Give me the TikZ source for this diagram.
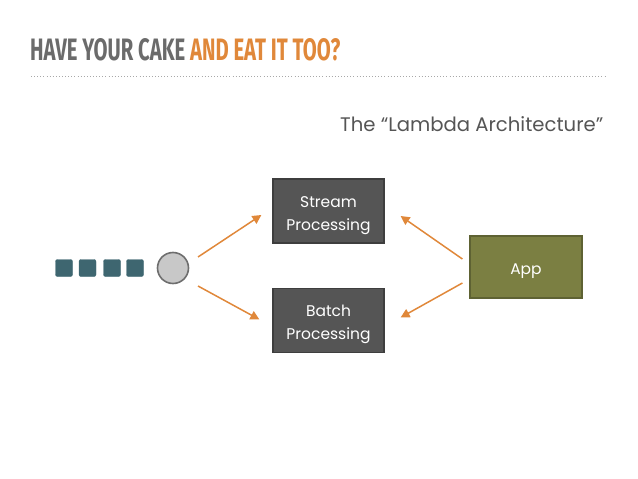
\documentclass[tikz,border=0pt]{standalone}
\usepackage{fontspec}
\setmainfont{Liberation Sans}
\newfontfamily\titlefont{Fira Sans}
\newfontfamily\handfont{Poppins}
\usetikzlibrary{arrows.meta}
\definecolor{titlegray}{HTML}{6B6B6B}
\definecolor{titleorange}{HTML}{E0883A}
\definecolor{boxgray}{HTML}{555555}
\definecolor{boxedge}{HTML}{3E3E3E}
\definecolor{appfill}{HTML}{7B7F42}
\definecolor{appedge}{HTML}{5E6233}
\definecolor{teal}{HTML}{3E6670}
\definecolor{circfill}{HTML}{C8C8C8}
\definecolor{circedge}{HTML}{6E6E6E}
\definecolor{arroworange}{HTML}{E0883A}
\definecolor{dotgray}{HTML}{A8A8A8}
\definecolor{subgray}{HTML}{555555}
\newcommand{\dropstrut}{\rule{0pt}{20pt}}
\begin{document}
\begin{tikzpicture}[x=1pt,y=-1pt,
  procbox/.style={draw=boxedge,line width=1.2pt,fill=boxgray,minimum width=111pt,minimum height=64pt,align=center,text=white,font=\handfont\fontsize{15.5}{23}\selectfont,inner sep=0pt},
  appbox/.style={draw=appedge,line width=1.2pt,fill=appfill,minimum width=112pt,minimum height=62pt,text=white,font=\handfont\fontsize{15.5}{23}\selectfont,inner sep=0pt},
  msg/.style={fill=teal,draw=teal,rounded corners=2pt,minimum size=17pt,inner sep=0pt},
  flow/.style={draw=arroworange,line width=1.5pt,-{Triangle[length=9pt,width=9pt]}}
]
\useasboundingbox (0,0) rectangle (638,479);
% title
\node[anchor=base west,inner sep=0pt] (title) at (30,60) {\resizebox{310pt}{22pt}{\titlefont\bfseries\color{titlegray}HAVE YOUR CAKE \color{titleorange}AND EAT IT TOO?}};
\coordinate (dl) at (31,76);
\coordinate (dr) at (607,76);
\draw[dotgray,line width=0.9pt,dash pattern=on 0.9pt off 2.2pt] (dl) -- (dr);
% subtitle
\node[anchor=base west,inner sep=0pt,text=subgray] (sub) at (340,131) {\resizebox{263pt}{!}{\handfont The “Lambda Architecture”}};
% boxes
\node[procbox] (stream) at (328.5,211) {\dropstrut Stream\\Processing};
\node[procbox] (batch) at (328.5,320.5) {\dropstrut Batch\\Processing};
\node[appbox] (app) at (526,267) {\dropstrut App};
% messages
\node[msg] (m1) at (64,268) {};
\node[msg] (m2) at (87.5,268) {};
\node[msg] (m3) at (112,268) {};
\node[msg] (m4) at (135,268) {};
\node[circle,draw=circedge,line width=1.6pt,fill=circfill,minimum size=31pt,inner sep=0pt] (hub) at (173,268) {};
% arrows
\draw[flow] ([shift={(25,-11)}]hub.center) -- ([shift={(-11,4)}]stream.west);
\draw[flow] ([shift={(25,18)}]hub.center) -- ([shift={(-13,-1)}]batch.west);
\draw[flow] ([shift={(-7,-8)}]app.west) -- ([shift={(16,5)}]stream.east);
\draw[flow] ([shift={(-7,16)}]app.west) -- ([shift={(16,-3)}]batch.east);
\end{tikzpicture}
\end{document}
